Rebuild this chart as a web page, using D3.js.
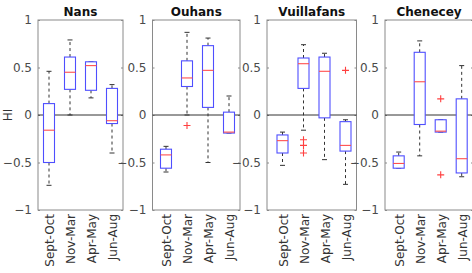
<!DOCTYPE html>
<html>
<head>
<meta charset="utf-8">
<script src="https://cdn.jsdelivr.net/npm/d3@7"></script>
<style>
  body { margin: 0; background: #fff; }
  svg { display: block; font-family: 'DejaVu Sans', sans-serif; }
</style>
</head>
<body>
<svg class="boxes"></svg>
<script>
// values (HI per station and season)
const stations = ['Nans', 'Ouhans', 'Vuillafans', 'Chenecey'];
const seasons = ['Sept-Oct', 'Nov-Mar', 'Apr-May', 'Jun-Aug'];
const yTicks = [-1, -0.5, 0, 0.5, 1];

// rows = stations, columns = seasons
const whiskerLow = [
	[-0.74, 0.00, 0.18, -0.40],
	[-0.60, 0.00, -0.50, -0.19],
	[-0.53, -0.16, -0.47, -0.73],
	[-0.56, -0.43, -0.18, -0.65]
];
const quart1 = [
	[-0.50, 0.27, 0.26, -0.09],
	[-0.56, 0.30, 0.08, -0.19],
	[-0.40, 0.28, -0.03, -0.38],
	[-0.56, -0.10, -0.18, -0.61]
];
const median = [
	[-0.16, 0.45, 0.52, -0.06],
	[-0.42, 0.39, 0.47, -0.18],
	[-0.27, 0.54, 0.46, -0.32],
	[-0.51, 0.35, -0.17, -0.46]
];
const quart3 = [
	[0.12, 0.61, 0.56, 0.28],
	[-0.36, 0.57, 0.73, 0.03],
	[-0.21, 0.60, 0.61, -0.07],
	[-0.43, 0.66, -0.05, 0.17]
];
const whiskerHigh = [
	[0.46, 0.79, 0.56, 0.32],
	[-0.33, 0.87, 0.81, 0.20],
	[-0.18, 0.74, 0.65, -0.05],
	[-0.39, 0.78, -0.05, 0.52]
];
const outliers = [
	[[], [], [], []],
	[[], [-0.11], [], []],
	[[], [-0.26, -0.32, -0.40], [], [0.47]],
	[[], [], [0.17, -0.63], []]
];

const svg = d3.select('.boxes')
	.attr('width', 472)
	.attr('height', 273);

// axes frames of the four subplots
const axLeft = [38, 152.5, 267, 385];
const axRight = [123, 240, 356.5, 473];
const boxFirst = [49, 166, 282.5, 398.7];
const boxStep = 21;
const boxW = 11;
const capW = 5;

const yScale = d3.scaleLinear()
	.domain([-1, 1])
	.range([210, 20]);

stations.forEach((name, s) => {
	const left = axLeft[s], right = axRight[s];
	const xScale = d3.scalePoint()
		.domain(seasons)
		.range([boxFirst[s], boxFirst[s] + boxStep * 3]);

	const g = svg.append('g');

	// frame
	g.append('rect')
		.attr('x', left)
		.attr('y', yScale(1))
		.attr('width', right - left)
		.attr('height', yScale(-1) - yScale(1))
		.attr('fill', 'none')
		.attr('stroke', '#8a8a8a')
		.attr('stroke-width', 1);

	// y axis, ticks inward
	const yAxis = d3.axisLeft(yScale)
		.tickValues(yTicks)
		.tickFormat(d3.format('~g'))
		.tickSize(-2)
		.tickPadding(6);
	const yAxisG = g.append('g')
		.attr('transform', `translate(${left},0)`)
		.call(yAxis);
	yAxisG.select('.domain').remove();
	yAxisG.selectAll('line').attr('stroke', '#8a8a8a');
	yAxisG.selectAll('text')
		.attr('fill', '#4a4a4a')
		.style('font-size', '12px')
		.style('font-family', "'DejaVu Sans', sans-serif");

	const yAxisR = d3.axisRight(yScale)
		.tickValues(yTicks)
		.tickFormat('')
		.tickSize(-2);
	const yAxisRG = g.append('g')
		.attr('transform', `translate(${right},0)`)
		.call(yAxisR);
	yAxisRG.select('.domain').remove();
	yAxisRG.selectAll('line').attr('stroke', '#8a8a8a');

	// zero line
	g.append('line')
		.attr('x1', left)
		.attr('x2', right)
		.attr('y1', yScale(0))
		.attr('y2', yScale(0))
		.attr('stroke', '#333')
		.attr('stroke-width', 1);

	// category labels, rotated
	g.selectAll('text.cat')
		.data(seasons)
		.enter()
		.append('text')
			.attr('class', 'cat')
			.attr('transform', d => `translate(${xScale(d) + 1},214) rotate(-90)`)
			.attr('dy', '0.35em')
			.attr('text-anchor', 'end')
			.attr('fill', '#333')
			.style('font-size', '12px')
			.text(d => d);

	// title
	g.append('text')
		.attr('x', (left + right) / 2)
		.attr('y', 16)
		.attr('text-anchor', 'middle')
		.attr('font-weight', 'bold')
		.attr('fill', '#111')
		.style('font-size', '12px')
		.text(name);

	const rows = seasons.map((season, i) => ({
		season,
		lo: whiskerLow[s][i],
		q1: quart1[s][i],
		med: median[s][i],
		q3: quart3[s][i],
		hi: whiskerHigh[s][i],
		out: outliers[s][i]
	}));

	const box = g.selectAll('g.box')
		.data(rows)
		.enter()
		.append('g')
			.attr('class', 'box');

	// whiskers
	box.append('line')
		.attr('x1', d => xScale(d.season))
		.attr('x2', d => xScale(d.season))
		.attr('y1', d => yScale(d.q3))
		.attr('y2', d => yScale(d.hi))
		.attr('stroke', '#333')
		.attr('stroke-dasharray', '3,3');
	box.append('line')
		.attr('x1', d => xScale(d.season))
		.attr('x2', d => xScale(d.season))
		.attr('y1', d => yScale(d.q1))
		.attr('y2', d => yScale(d.lo))
		.attr('stroke', '#333')
		.attr('stroke-dasharray', '3,3');

	// caps
	['lo', 'hi'].forEach(k => {
		box.append('line')
			.attr('x1', d => xScale(d.season) - capW / 2)
			.attr('x2', d => xScale(d.season) + capW / 2)
			.attr('y1', d => yScale(d[k]))
			.attr('y2', d => yScale(d[k]))
			.attr('stroke', '#333');
	});

	// boxes
	box.append('rect')
		.attr('x', d => xScale(d.season) - boxW / 2)
		.attr('y', d => yScale(d.q3))
		.attr('width', boxW)
		.attr('height', d => yScale(d.q1) - yScale(d.q3))
		.attr('fill', '#fff')
		.attr('stroke', '#4f4fff')
		.attr('stroke-width', 1.1);

	// medians
	box.append('line')
		.attr('x1', d => xScale(d.season) - boxW / 2)
		.attr('x2', d => xScale(d.season) + boxW / 2)
		.attr('y1', d => yScale(d.med))
		.attr('y2', d => yScale(d.med))
		.attr('stroke', '#ff4f4f')
		.attr('stroke-width', 1.1);

	// outliers as red plus signs
	box.selectAll('path.out')
		.data(d => d.out.map(v => ({ season: d.season, v })))
		.enter()
		.append('path')
			.attr('class', 'out')
			.attr('d', d => {
				const x = xScale(d.season), y = yScale(d.v);
				return `M${x - 3.5},${y}H${x + 3.5}M${x},${y - 3.5}V${y + 3.5}`;
			})
			.attr('stroke', '#ff4040')
			.attr('stroke-width', 1.1);
});

// shared y label
svg.append('text')
	.attr('transform', `translate(8,${yScale(0)}) rotate(-90)`)
	.attr('dy', '0.35em')
	.attr('text-anchor', 'middle')
	.attr('fill', '#333')
	.style('font-size', '12px')
	.text('HI');
</script>
</body>
</html>
